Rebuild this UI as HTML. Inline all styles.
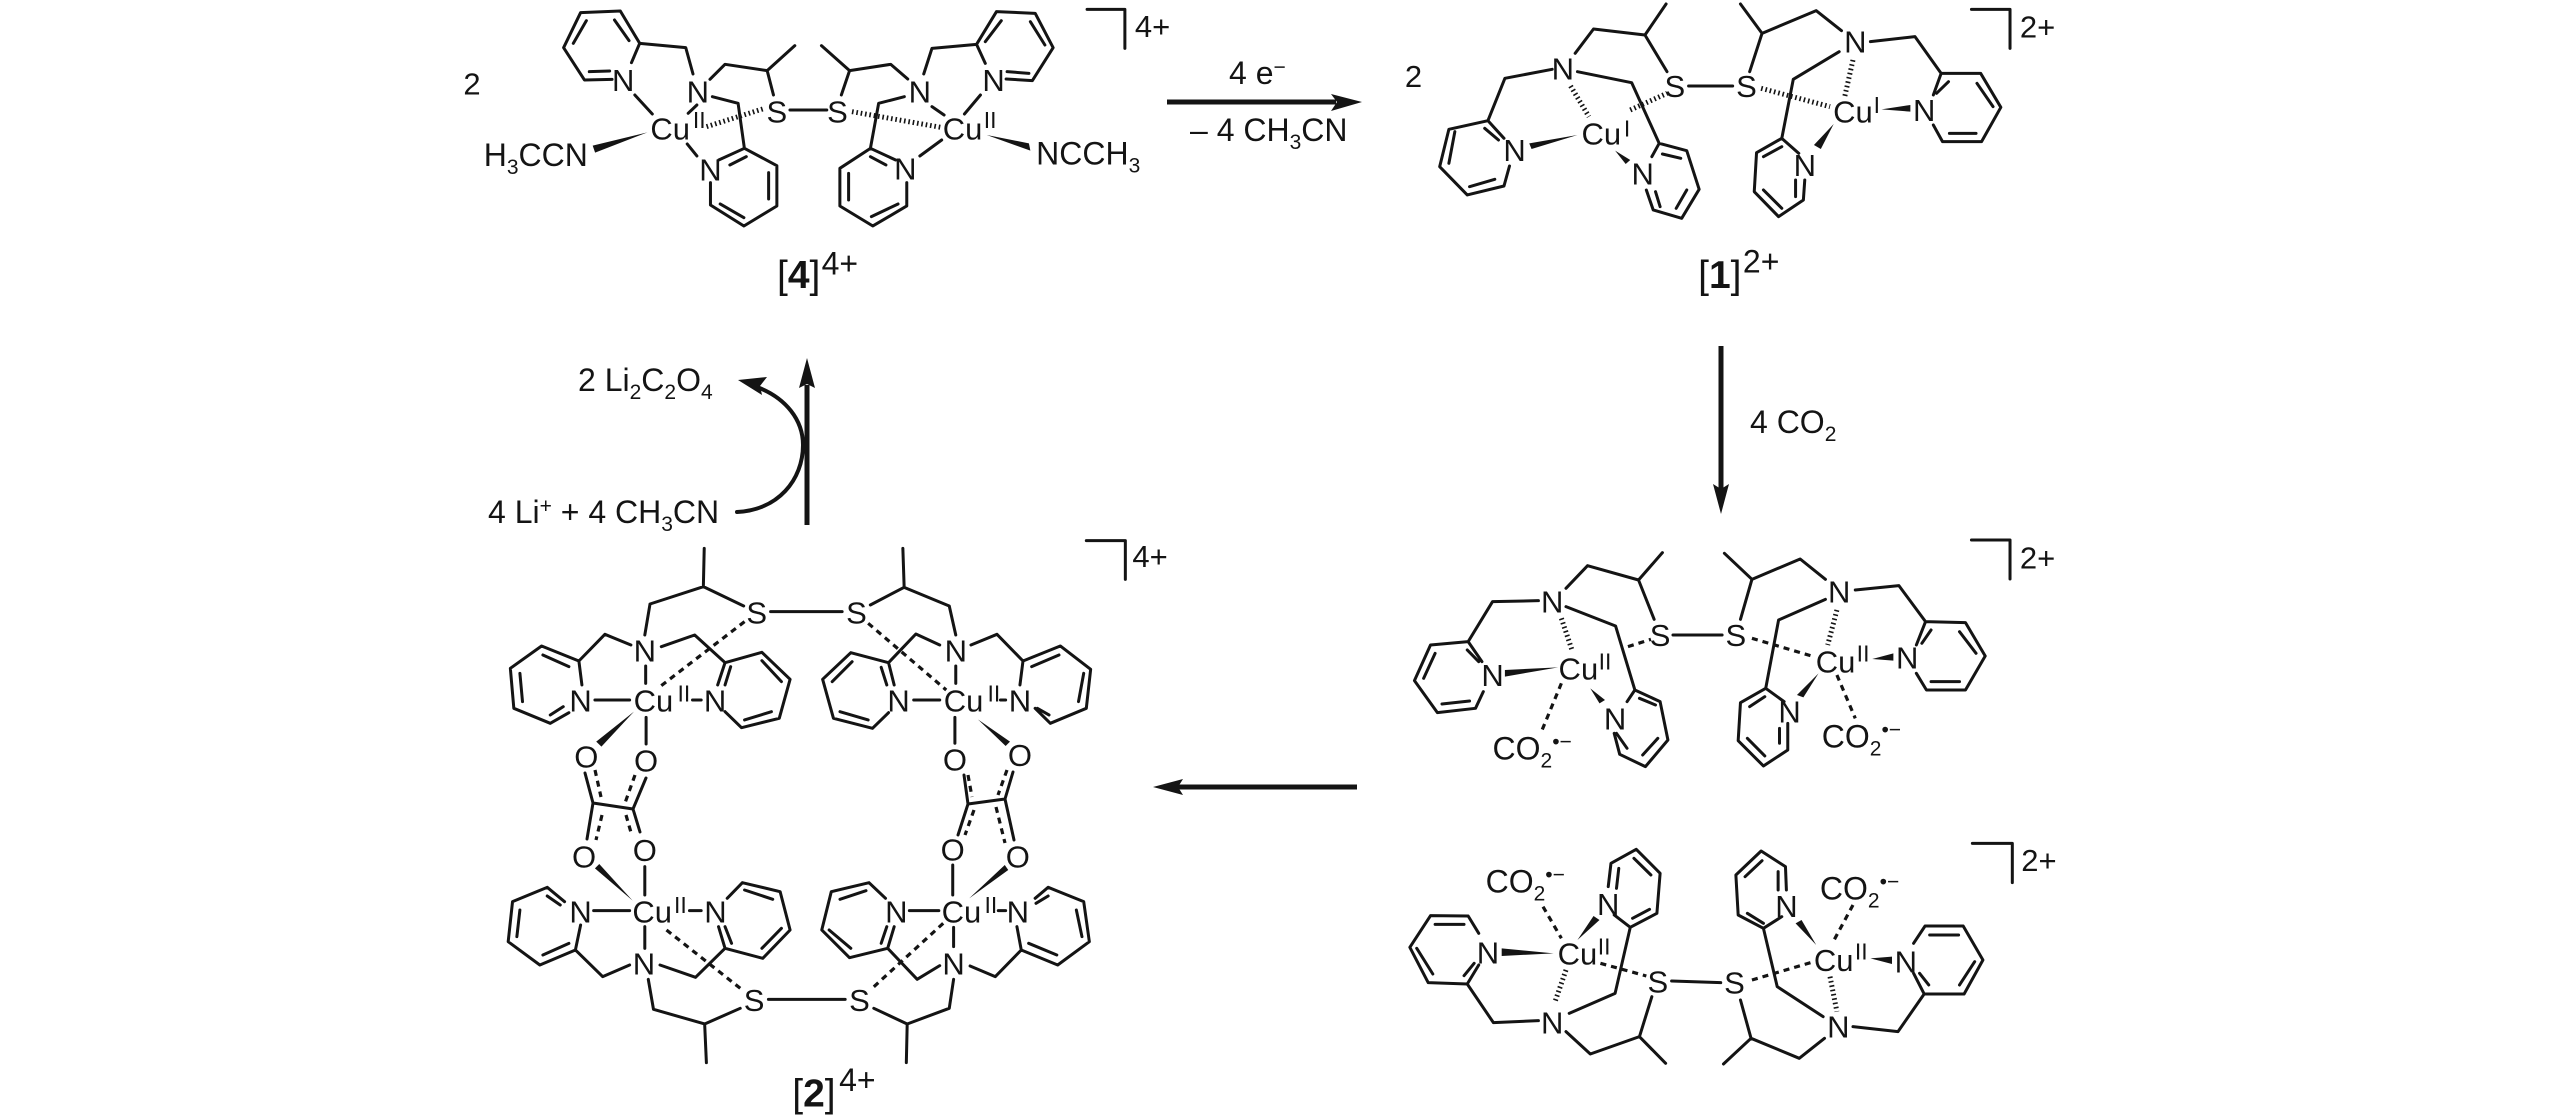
<!DOCTYPE html>
<html><head><meta charset="utf-8"><title>Reaction scheme</title>
<style>
html,body{margin:0;padding:0;background:#fff;width:2562px;height:1118px;overflow:hidden}
svg{display:block}
path{fill:none;stroke:#141414;stroke-width:3;stroke-linecap:round;stroke-linejoin:round;vector-effect:non-scaling-stroke}
path.h{stroke-width:5;stroke-linecap:butt;stroke-dasharray:1.6 2.8}
path.d{stroke-width:3.2;stroke-linecap:butt;stroke-dasharray:6 5}
path.a{stroke-width:5;stroke-linecap:butt}
polygon{fill:#141414}
text{font-family:"Liberation Sans",sans-serif;font-size:31px;fill:#141414;text-anchor:middle}
text.s{font-size:23px}
text.c{font-size:31px}
text.l{font-size:32px;text-anchor:start}
text.e{font-size:32px;text-anchor:end}
text.b{font-size:39px}
text.p{font-size:32px}
tspan.u{font-size:21px}
</style></head><body>
<svg width="2562" height="1118" viewBox="0 0 2562 1118" xmlns="http://www.w3.org/2000/svg">

<!-- arrows -->
<path class="a" d="M1167 102H1336"/><polygon points="1362,102 1331,94 1337,102 1331,111"/>
<path class="a" d="M1721 346V490"/><polygon points="1721,514 1713,484 1721,489 1729,484"/>
<path class="a" d="M1357 787H1178"/><polygon points="1153,787 1183,779 1178,787 1183,795"/>
<path class="a" d="M807 525V385"/><polygon points="807,358 799,388 807,384 815,388"/>
<path style="stroke-width:4" d="M737 512C778 510 803 480 803 445C803 420 786 398 757 387"/><polygon points="738,380 767,377 760,386 762,395"/>
<text class="l" x="1229" y="84">4 e<tspan class="u" dy="-10">−</tspan></text>
<text class="l" x="1190" y="141">– 4 CH<tspan class="u" dy="8">3</tspan><tspan dy="-8">CN</tspan></text>
<text class="l" x="1750" y="433">4 CO<tspan class="u" dy="8">2</tspan></text>
<text class="l" x="578" y="391">2 Li<tspan class="u" dy="8">2</tspan><tspan dy="-8">C</tspan><tspan class="u" dy="8">2</tspan><tspan dy="-8">O</tspan><tspan class="u" dy="8">4</tspan></text>
<text class="l" x="488" y="523">4 Li<tspan class="u" dy="-10">+</tspan><tspan dy="10"> + 4 CH</tspan><tspan class="u" dy="8">3</tspan><tspan dy="-8">CN</tspan></text>

<!-- oxalates -->
<path d="M585 773L593 803L633 809L646 778M593 803L587 839M633 809L640 832M964 775L968 804L1005 799L1013 772M968 804L958 835M1005 799L1014 840"/>
<path class="d" d="M595 770L601 797M635 775L625 803M602 815L596 840M626 815L632 836M968 775L972 797M1007 770L998 795M974 810L965 835M996 807L1005 843"/>

<!-- [4] -->
<g transform="translate(440 0) scale(.4847 .3333)">
<path d="M355 238L298 240L255 143L290 38L372 33L412 130L395 188M275 130L302 62M360 60L390 122M308 215L350 213M412 130L507 143L522 222M557 238L588 193L675 212L732 137M675 212L688 285M562 290L615 310L628 445L695 497L695 618L627 678L558 615L558 548M628 445L575 480M598 495L632 470M678 518L678 597M578 612L627 653M402 285L438 342M530 315L512 340M510 432L530 468M722 330H798M1168 237L1222 242L1265 143L1228 40L1148 35L1107 133L1125 190M1158 62L1125 125M1218 65L1248 135M1170 215L1215 220M1107 133L1015 145L998 222M965 237L930 193L845 212L787 137M845 212L828 285M958 290L905 310L888 445L825 505L825 618L893 678L963 618L963 548M888 445L940 480M888 470L920 495M843 520L843 600M890 650L945 612M1115 285L1082 342M1015 320L1040 345M1035 420L990 468M1335 28H1413V145"/>
<path class="h" d="M550 380L670 325M850 335L1033 382"/>
<polygon points="428,397 315,437 320,458"/><polygon points="1128,405 1215,430 1218,452"/>
<text transform="translate(66 250) scale(2.063 3)" y="11">2</text>
<text transform="translate(378 240) scale(2.063 3)" y="11">N</text>
<text transform="translate(532 275) scale(2.063 3)" y="11">N</text>
<text transform="translate(558 508) scale(2.063 3)" y="11">N</text>
<text transform="translate(1142 240) scale(2.063 3)" y="11">N</text>
<text transform="translate(990 275) scale(2.063 3)" y="11">N</text>
<text transform="translate(960 505) scale(2.063 3)" y="11">N</text>
<text transform="translate(695 335) scale(2.063 3)" y="11">S</text>
<text transform="translate(820 335) scale(2.063 3)" y="11">S</text>
<text transform="translate(475 385) scale(2.063 3)" y="11">Cu</text>
<text class="s" transform="translate(535 360) scale(2.063 3)" y="8">II</text>
<text transform="translate(1078 385) scale(2.063 3)" y="11">Cu</text>
<text class="s" transform="translate(1135 360) scale(2.063 3)" y="8">II</text>
<text class="e" transform="translate(305 465) scale(2.063 3)" y="11">H<tspan class="u" dy="8">3</tspan><tspan dy="-8">CCN</tspan></text>
<text class="l" transform="translate(1230 460) scale(2.063 3)" y="11">NCCH<tspan class="u" dy="8">3</tspan></text>
<text class="c" transform="translate(1470 78) scale(2.063 3)" y="11">4+</text>
<text class="b" transform="translate(740 825) scale(2.063 3)" y="13">[<tspan font-weight="bold">4</tspan>]</text>
<text class="p" transform="translate(825 790) scale(2.063 3)" y="11">4+</text>
</g>

<!-- [1] -->
<g transform="translate(1380 0) scale(.4592 .3333)">
<path d="M425 160L465 87L577 105L623 12M577 105L625 215M672 258H768M375 208L272 235L235 362L150 388L130 500L190 585L270 558L282 498M235 362L270 415M163 395L150 490M195 560L250 538M228 385L258 420M430 215L548 248L608 430L668 452L695 568L657 655L595 630L580 570M608 430L592 470M615 462L655 475M668 570L645 625M600 575L610 620M1005 92L950 32L832 100L785 12M832 100L805 215M1068 125L1165 110L1222 220L1308 220L1352 322L1310 425L1225 425L1205 375M1222 220L1205 285M1238 245L1212 280M1300 250L1335 320M1240 400L1298 400M1000 155L900 238L875 415L820 458L815 575L868 650L922 600L925 540M875 415L912 460M835 470L875 440M835 570L875 625M905 540L905 590M1288 28H1372V145"/>
<path class="h" d="M415 258L455 350M545 330L625 280M1030 180L1012 290M830 265L980 320"/>
<polygon points="430,405 325,430 330,447"/><polygon points="512,452 545,480 535,492"/><polygon points="1092,328 1155,315 1155,335"/><polygon points="988,372 945,435 960,447"/>
<text transform="translate(73 228) scale(2.178 3)" y="11">2</text>
<text transform="translate(398 205) scale(2.178 3)" y="11">N</text>
<text transform="translate(293 450) scale(2.178 3)" y="11">N</text>
<text transform="translate(572 520) scale(2.178 3)" y="11">N</text>
<text transform="translate(1035 125) scale(2.178 3)" y="11">N</text>
<text transform="translate(1185 330) scale(2.178 3)" y="11">N</text>
<text transform="translate(925 495) scale(2.178 3)" y="11">N</text>
<text transform="translate(642 258) scale(2.178 3)" y="11">S</text>
<text transform="translate(798 258) scale(2.178 3)" y="11">S</text>
<text transform="translate(482 400) scale(2.178 3)" y="11">Cu</text>
<text class="s" transform="translate(538 385) scale(2.178 3)" y="8">I</text>
<text transform="translate(1030 335) scale(2.178 3)" y="11">Cu</text>
<text class="s" transform="translate(1082 315) scale(2.178 3)" y="8">I</text>
<text class="c" transform="translate(1432 80) scale(2.178 3)" y="11">2+</text>
<text class="b" transform="translate(740 825) scale(2.178 3)" y="13">[<tspan font-weight="bold">1</tspan>]</text>
<text class="p" transform="translate(830 785) scale(2.178 3)" y="11">2+</text>
</g>

<!-- [2] top -->
<g transform="translate(480 530) scale(.4337 .3333)">
<path d="M517 55L515 170M392 222L515 170L608 228M670 245H835M392 222L380 315M348 345L288 313L228 393L142 348L70 415L78 535L162 580L205 548M228 393L235 465M145 375L205 410M92 430L98 515M162 555L192 530M418 350L495 315L565 398L650 367L715 448L690 565L603 593L565 545M565 398L548 465M650 392L695 455M610 570L672 545M578 410L565 465M382 408L382 460M265 510L345 510M490 510L510 510M383 562L383 642M900 225L978 172L1082 228L1097 315M978 172L975 55M1060 345L1005 312L942 398L855 368L790 448L815 565L905 595L942 548M942 398L955 465M858 395L812 455M830 545L895 570M925 412L938 465M1132 345L1192 313L1252 393L1338 348L1408 418L1398 535L1315 580L1280 535M1252 393L1245 465M1335 375L1272 410M1392 430L1380 515M1312 555L1285 535M1097 408L1097 460M1000 510L1060 510M1200 510L1212 510M1095 562L1095 640M1398 32H1488V148"/>
<path class="d" d="M610 275L415 470M895 280L1075 480"/>
<polygon points="355,545 268,635 280,650"/><polygon points="1148,568 1212,648 1222,635"/>
<text transform="translate(380 362) scale(2.306 3)" y="11">N</text>
<text transform="translate(232 512) scale(2.306 3)" y="11">N</text>
<text transform="translate(542 512) scale(2.306 3)" y="11">N</text>
<text transform="translate(1097 362) scale(2.306 3)" y="11">N</text>
<text transform="translate(965 512) scale(2.306 3)" y="11">N</text>
<text transform="translate(1245 512) scale(2.306 3)" y="11">N</text>
<text transform="translate(638 247) scale(2.306 3)" y="11">S</text>
<text transform="translate(868 247) scale(2.306 3)" y="11">S</text>
<text transform="translate(400 512) scale(2.306 3)" y="11">Cu</text>
<text class="s" transform="translate(470 490) scale(2.306 3)" y="8">II</text>
<text transform="translate(1115 512) scale(2.306 3)" y="11">Cu</text>
<text class="s" transform="translate(1185 490) scale(2.306 3)" y="8">II</text>
<text transform="translate(245 680) scale(2.306 3)" y="11">O</text>
<text transform="translate(383 692) scale(2.306 3)" y="11">O</text>
<text transform="translate(1095 688) scale(2.306 3)" y="11">O</text>
<text transform="translate(1245 675) scale(2.306 3)" y="11">O</text>
<text class="c" transform="translate(1545 78) scale(2.306 3)" y="11">4+</text>
</g>

<!-- [2] bottom -->
<g transform="translate(480 820) scale(.4337 .3333)">
<path d="M262 272L345 272M483 272L510 272M380 140L380 225M380 320L380 385M665 538L842 538M345 435L283 470L220 390L138 435L65 365L75 245L155 202L195 245M220 390L232 315M145 405L205 370M85 350L92 270M155 228L185 255M415 435L497 472L565 385L652 415L715 330L692 215L605 188L570 235M565 385L550 320M580 370L565 320M650 385L695 325M610 210L675 238M388 478L400 568L518 612L600 565M518 612L522 728M990 272L1058 272M1195 272L1212 272M1090 135L1090 225M1092 322L1092 380M1060 437L1008 478L940 385L852 413L788 330L810 215L897 188L935 235M940 385L955 320M855 385L805 330M830 238L890 212M925 370L938 320M1130 438L1188 470L1248 390L1332 435L1405 365L1392 245L1310 202L1280 235M1248 390L1238 320M1330 405L1265 370M1388 350L1375 270M1310 228L1282 250M1092 478L1082 565L985 612L908 565M985 612L983 728"/>
<path class="d" d="M430 330L605 510M1068 310L900 510"/>
<polygon points="352,242 265,145 275,132"/><polygon points="1128,235 1210,135 1218,150"/>
<text transform="translate(378 430) scale(2.306 3)" y="11">N</text>
<text transform="translate(232 275) scale(2.306 3)" y="11">N</text>
<text transform="translate(543 275) scale(2.306 3)" y="11">N</text>
<text transform="translate(1092 430) scale(2.306 3)" y="11">N</text>
<text transform="translate(960 275) scale(2.306 3)" y="11">N</text>
<text transform="translate(1240 275) scale(2.306 3)" y="11">N</text>
<text transform="translate(632 540) scale(2.306 3)" y="11">S</text>
<text transform="translate(875 540) scale(2.306 3)" y="11">S</text>
<text transform="translate(397 275) scale(2.306 3)" y="11">Cu</text>
<text class="s" transform="translate(462 255) scale(2.306 3)" y="8">II</text>
<text transform="translate(1110 275) scale(2.306 3)" y="11">Cu</text>
<text class="s" transform="translate(1178 255) scale(2.306 3)" y="8">II</text>
<text transform="translate(240 110) scale(2.306 3)" y="11">O</text>
<text transform="translate(380 90) scale(2.306 3)" y="11">O</text>
<text transform="translate(1090 88) scale(2.306 3)" y="11">O</text>
<text transform="translate(1240 110) scale(2.306 3)" y="11">O</text>
<text class="b" transform="translate(770 820) scale(2.306 3)" y="13">[<tspan font-weight="bold">2</tspan>]</text>
<text class="p" transform="translate(870 780) scale(2.306 3)" y="11">4+</text>
</g>

<!-- CO2 top -->
<g transform="translate(1380 520) scale(.4592 .3333)">
<path d="M405 205L452 137L563 180L615 98M563 180L597 298M345 242L245 245L192 365L110 375L75 482L125 578L208 565L225 515M192 365L222 425M120 400L95 475M135 552L195 543M190 390L215 425M405 260L513 318L555 510L610 545L627 660L578 740L522 703L510 640M555 510L538 545M565 535L600 555M605 655L572 705M515 640L538 685M638 345L745 345M785 298L810 178L915 117L970 178M810 178L750 100M1035 210L1130 197L1188 305L1275 308L1318 408L1275 510L1190 510L1168 460M1188 305L1168 375M1262 335L1298 400M1200 485L1262 485M1200 330L1180 370M970 238L868 300L840 505L785 548L780 662L835 738L888 690L888 610M840 505L880 545M805 560L838 530M800 655L838 708M870 625L870 670M1288 60H1372V177"/>
<path class="h" d="M395 295L418 390M995 270L975 375"/>
<path class="d" d="M540 380L590 358M810 355L945 410M395 490L350 640M995 465L1035 595"/>
<polygon points="388,442 272,450 272,470"/><polygon points="458,505 478,550 490,540"/><polygon points="1072,417 1118,400 1118,422"/><polygon points="955,460 908,525 922,532"/>
<text transform="translate(375 245) scale(2.178 3)" y="11">N</text>
<text transform="translate(245 465) scale(2.178 3)" y="11">N</text>
<text transform="translate(512 595) scale(2.178 3)" y="11">N</text>
<text transform="translate(1000 215) scale(2.178 3)" y="11">N</text>
<text transform="translate(1148 412) scale(2.178 3)" y="11">N</text>
<text transform="translate(892 575) scale(2.178 3)" y="11">N</text>
<text transform="translate(610 345) scale(2.178 3)" y="11">S</text>
<text transform="translate(775 345) scale(2.178 3)" y="11">S</text>
<text transform="translate(432 445) scale(2.178 3)" y="11">Cu</text>
<text class="s" transform="translate(490 425) scale(2.178 3)" y="8">II</text>
<text transform="translate(992 425) scale(2.178 3)" y="11">Cu</text>
<text class="s" transform="translate(1052 400) scale(2.178 3)" y="8">II</text>
<text class="l" transform="translate(245 685) scale(2.178 3)" y="11">CO<tspan class="u" dy="8">2</tspan><tspan class="u" dy="-19">•−</tspan></text>
<text class="l" transform="translate(962 650) scale(2.178 3)" y="11">CO<tspan class="u" dy="8">2</tspan><tspan class="u" dy="-19">•−</tspan></text>
<text class="c" transform="translate(1432 112) scale(2.178 3)" y="11">2+</text>
</g>

<!-- CO2 bottom -->
<g transform="translate(1380 830) scale(.4592 .3333)">
<path d="M345 572L247 578L190 462L105 458L65 352L110 257L192 258L215 310M190 462L215 405M80 355L115 432M120 283L183 283M183 437L205 400M412 550L512 490L545 292L603 250L610 130L558 58L503 100L497 170M545 292L510 255M550 265L587 238M590 135L553 85M520 115L515 175M405 605L458 672L565 620L622 700M565 620L592 500M635 453L742 458M785 510L808 625L913 685L968 625M808 625L748 702M1030 590L1128 605L1185 492L1272 492L1313 390L1270 288L1187 288L1162 340M1185 492L1162 430M1262 465L1295 395M1197 315L1260 315M1195 465L1175 430M965 560L865 470L835 295L780 255L775 135L830 63L883 110L885 180M835 295L875 260M800 250L835 280M795 140L832 92M867 125L867 180M1290 40H1377V158"/>
<path class="h" d="M405 420L380 520M980 440L995 545"/>
<path class="d" d="M355 230L395 325M1030 225L985 340M480 400L580 438M810 450L945 395"/>
<polygon points="378,370 265,355 265,378"/><polygon points="430,330 465,258 478,270"/><polygon points="950,345 905,280 918,270"/><polygon points="1068,385 1115,380 1115,402"/>
<text transform="translate(235 367) scale(2.178 3)" y="11">N</text>
<text transform="translate(497 222) scale(2.178 3)" y="11">N</text>
<text transform="translate(375 578) scale(2.178 3)" y="11">N</text>
<text transform="translate(998 590) scale(2.178 3)" y="11">N</text>
<text transform="translate(1145 395) scale(2.178 3)" y="11">N</text>
<text transform="translate(885 228) scale(2.178 3)" y="11">N</text>
<text transform="translate(605 455) scale(2.178 3)" y="11">S</text>
<text transform="translate(772 458) scale(2.178 3)" y="11">S</text>
<text transform="translate(430 370) scale(2.178 3)" y="11">Cu</text>
<text class="s" transform="translate(488 350) scale(2.178 3)" y="8">II</text>
<text transform="translate(988 390) scale(2.178 3)" y="11">Cu</text>
<text class="s" transform="translate(1048 365) scale(2.178 3)" y="8">II</text>
<text class="l" transform="translate(230 155) scale(2.178 3)" y="11">CO<tspan class="u" dy="8">2</tspan><tspan class="u" dy="-19">•−</tspan></text>
<text class="l" transform="translate(958 175) scale(2.178 3)" y="11">CO<tspan class="u" dy="8">2</tspan><tspan class="u" dy="-19">•−</tspan></text>
<text class="c" transform="translate(1435 90) scale(2.178 3)" y="11">2+</text>
</g>
</svg>
</body></html>
